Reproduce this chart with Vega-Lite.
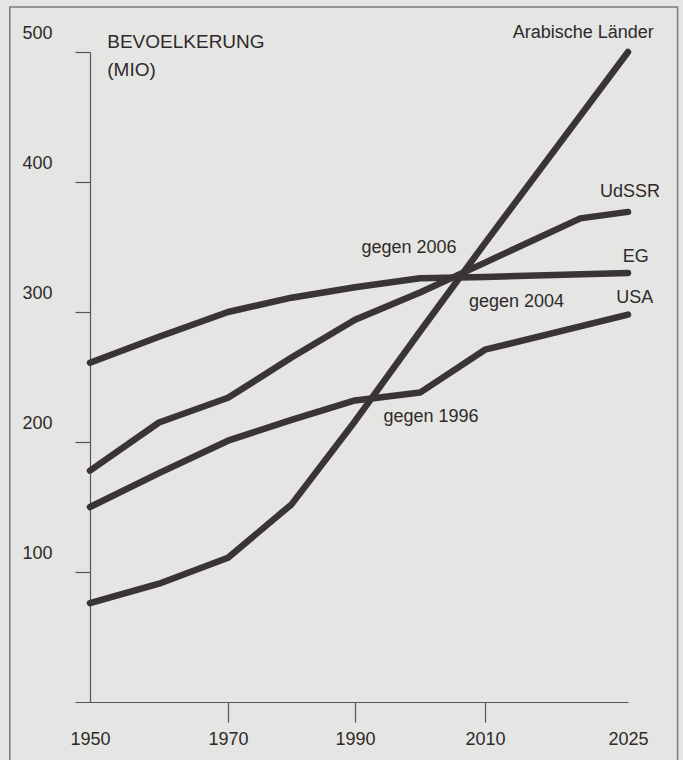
{
  "$schema": "https://vega.github.io/schema/vega-lite/v6.json",
  "width": 538,
  "height": 650,
  "autosize": {"type": "none"},
  "padding": {"left": 90, "top": 52, "right": 55, "bottom": 58},
  "background": "#e5e5e3",
  "config": {
    "view": {"stroke": null},
    "font": "Liberation Sans",
    "axis": {"domainColor": "#55555f", "tickColor": "#55555f", "labelColor": "#2e2a2a", "labelFont": "Liberation Sans", "labelFontSize": 18, "grid": false, "title": null, "domainWidth": 1.2, "tickWidth": 1.2}
  },
  "datasets": {
    "series": [
      {"country": "Arabische Länder", "year": 1950, "value": 76},
      {"country": "Arabische Länder", "year": 1960, "value": 91},
      {"country": "Arabische Länder", "year": 1970, "value": 111},
      {"country": "Arabische Länder", "year": 1980, "value": 152},
      {"country": "Arabische Länder", "year": 1990, "value": 216},
      {"country": "Arabische Länder", "year": 2000, "value": 285},
      {"country": "Arabische Länder", "year": 2010, "value": 353},
      {"country": "Arabische Länder", "year": 2025, "value": 500},
      {"country": "EG", "year": 1950, "value": 261},
      {"country": "EG", "year": 1960, "value": 281},
      {"country": "EG", "year": 1970, "value": 300},
      {"country": "EG", "year": 1980, "value": 311},
      {"country": "EG", "year": 1990, "value": 319},
      {"country": "EG", "year": 2000, "value": 326},
      {"country": "EG", "year": 2010, "value": 327},
      {"country": "EG", "year": 2025, "value": 330},
      {"country": "UdSSR", "year": 1950, "value": 178},
      {"country": "UdSSR", "year": 1960, "value": 215},
      {"country": "UdSSR", "year": 1970, "value": 234},
      {"country": "UdSSR", "year": 1980, "value": 265},
      {"country": "UdSSR", "year": 1990, "value": 294},
      {"country": "UdSSR", "year": 2000, "value": 315},
      {"country": "UdSSR", "year": 2010, "value": 338},
      {"country": "UdSSR", "year": 2020, "value": 372},
      {"country": "UdSSR", "year": 2025, "value": 377},
      {"country": "USA", "year": 1950, "value": 150},
      {"country": "USA", "year": 1960, "value": 176},
      {"country": "USA", "year": 1970, "value": 201},
      {"country": "USA", "year": 1980, "value": 217},
      {"country": "USA", "year": 1990, "value": 232},
      {"country": "USA", "year": 2000, "value": 238},
      {"country": "USA", "year": 2010, "value": 271},
      {"country": "USA", "year": 2025, "value": 298}
    ],
    "title": [
      {"text": "BEVOELKERUNG", "year": 1952.5, "value": 508},
      {"text": "(MIO)", "year": 1952.5, "value": 486}
    ],
    "labels": [
      {"text": "Arabische Länder", "year": 2020.3, "value": 514.5},
      {"text": "UdSSR", "year": 2025.2, "value": 392},
      {"text": "EG", "year": 2025.8, "value": 342},
      {"text": "USA", "year": 2025.7, "value": 311},
      {"text": "gegen 2006", "year": 1998.3, "value": 349},
      {"text": "gegen 2004", "year": 2013.3, "value": 308},
      {"text": "gegen 1996", "year": 2001.7, "value": 219}
    ]
  },
  "layer": [
    {
      "data": {"values": [{}]},
      "mark": {"type": "rect", "fill": null, "stroke": "#7a7a82", "strokeWidth": 1.5},
      "encoding": {
        "x": {"datum": 1938.4, "type": "quantitative", "scale": {"domain": [1947.83, 1950, 1970, 1990, 2010, 2025], "range": [-15, 0, 138, 265, 395, 538], "nice": false, "zero": false}},
        "x2": {"datum": 2030.2},
        "y": {"datum": 534.6, "type": "quantitative", "scale": {"domain": [0, 500], "nice": false}},
        "y2": {"datum": -60}
      }
    },
    {
      "data": {"name": "series"},
      "mark": {"type": "line", "color": "#3a3434", "strokeWidth": 6.5, "strokeCap": "round", "strokeJoin": "round"},
      "encoding": {
        "x": {
          "field": "year", "type": "quantitative",
          "axis": {
            "values": [1950, 1970, 1990, 2010, 2025],
            "format": "d",
            "tickSize": 20,
            "labelPadding": 8,
            "tickOpacity": {"condition": {"test": "datum.value == 1950 || datum.value == 2025", "value": 0}, "value": 1},
            "labelFlush": false,
            "labelOverlap": false
          }
        },
        "y": {
          "field": "value", "type": "quantitative",
          "axis": {
            "values": [100, 200, 300, 400, 500],
            "tickSize": 15,
            "labelAlign": "left",
            "labelPadding": 53,
            "labelOffset": -19,
            "labelBaseline": "middle",
            "labelFlush": false,
            "labelOverlap": false
          }
        },
        "detail": {"field": "country"}
      }
    },
    {
      "data": {"name": "title"},
      "mark": {"type": "text", "fontSize": 19, "color": "#2e2a2a", "baseline": "middle", "align": "left"},
      "encoding": {
        "x": {"field": "year", "type": "quantitative"},
        "y": {"field": "value", "type": "quantitative"},
        "text": {"field": "text"}
      }
    },
    {
      "data": {"name": "labels"},
      "mark": {"type": "text", "fontSize": 18, "color": "#2e2a2a", "baseline": "middle", "align": "center"},
      "encoding": {
        "x": {"field": "year", "type": "quantitative"},
        "y": {"field": "value", "type": "quantitative"},
        "text": {"field": "text"}
      }
    }
  ]
}
